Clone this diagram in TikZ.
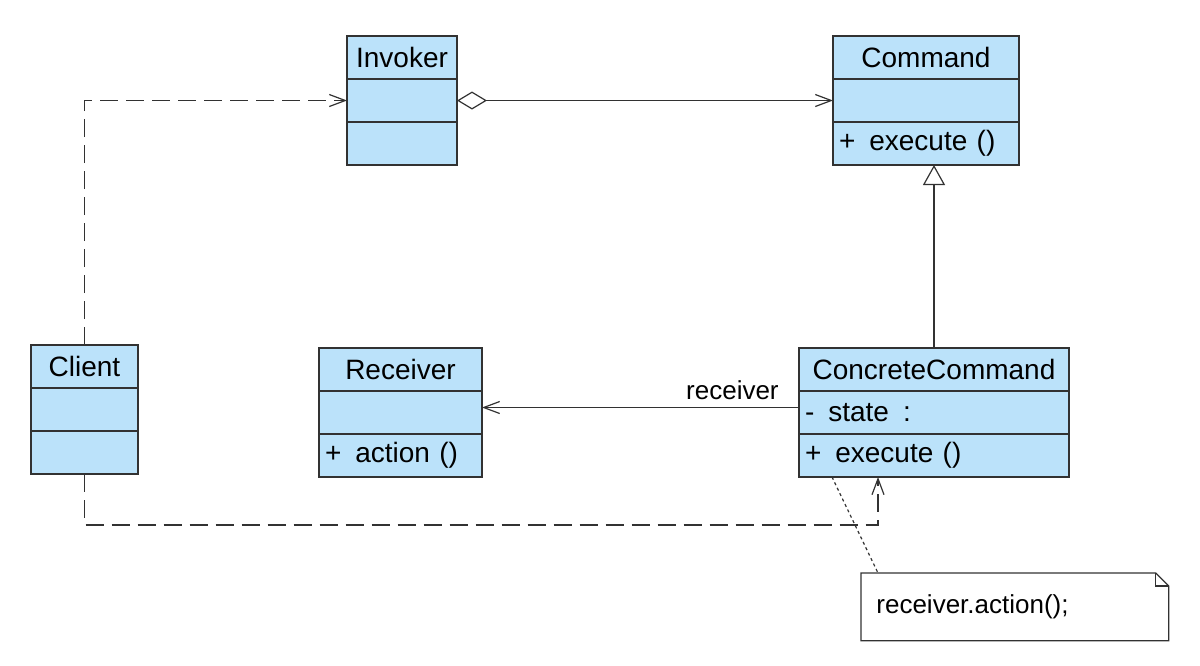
\documentclass[tikz,border=0pt]{standalone}
\usepackage{fontspec}
\setmainfont{Liberation Sans}
\usetikzlibrary{arrows.meta, positioning}
\definecolor{clsblue}{RGB}{187,226,250}
\definecolor{umlline}{RGB}{50,50,50}

\begin{document}
\begin{tikzpicture}[
    x=0.5pt, y=-0.5pt,
    head/.style={draw=umlline, fill=clsblue, line width=0.6pt, minimum height=21.5pt, inner xsep=3pt, inner ysep=0pt, outer sep=0pt, align=center, font=\fontsize{14}{16}\selectfont},
    slot/.style={draw=umlline, fill=clsblue, line width=0.6pt, minimum height=21.5pt, inner xsep=3pt, inner ysep=0pt, outer sep=0pt, align=left, font=\fontsize{14}{16}\selectfont},
    dep/.style={draw=umlline, line width=0.6pt, dash pattern=on 9pt off 4pt, -{Straight Barb[length=8pt, width=6pt]}},
    assoc/.style={draw=umlline, line width=0.6pt, -{Straight Barb[length=8pt, width=6pt]}},
    agg/.style={draw=umlline, line width=0.6pt, {Diamond[open, length=15pt, width=9pt]}-{Straight Barb[length=8pt, width=6pt]}},
    gen/.style={draw=umlline, line width=0.6pt, -{Triangle[open, length=10pt, width=11pt]}},
    note/.style={minimum width=153.5pt, minimum height=33.5pt, text width=138.5pt, inner xsep=7.5pt, align=left, font=\fontsize{13}{15}\selectfont}
]
    \useasboundingbox (0,0) rectangle (1200,665);

    % Invoker
    \node[head, text width=49pt, anchor=north west] (inv) at (347,36) {Invoker};
    \node[slot, text width=49pt, below=0pt of inv] (inv-a) {};
    \node[slot, text width=49pt, below=0pt of inv-a] (inv-o) {};

    % Command
    \node[head, text width=87pt, anchor=north west] (cmd) at (833,36) {Command};
    \node[slot, text width=87pt, below=0pt of cmd] (cmd-a) {};
    \node[slot, text width=87pt, below=0pt of cmd-a] (cmd-o) {+\ \,execute ()};

    % Client
    \node[head, text width=47.5pt, anchor=north west] (cli) at (31,345) {Client};
    \node[slot, text width=47.5pt, below=0pt of cli] (cli-a) {};
    \node[slot, text width=47.5pt, below=0pt of cli-a] (cli-o) {};

    % Receiver
    \node[head, text width=75.5pt, anchor=north west] (rcv) at (319,348) {Receiver};
    \node[slot, text width=75.5pt, below=0pt of rcv] (rcv-a) {};
    \node[slot, text width=75.5pt, below=0pt of rcv-a] (rcv-o) {+\ \,action ()};

    % ConcreteCommand
    \node[head, text width=129pt, anchor=north west] (cc) at (799,348) {ConcreteCommand};
    \node[slot, text width=129pt, below=0pt of cc] (cc-a) {-\ \,state\ \,:};
    \node[slot, text width=129pt, below=0pt of cc-a] (cc-o) {+\ \,execute ()};

    % Note
    \node[note, anchor=north west] (nt) at (861,573) {receiver.action();};
    \draw[umlline, line width=0.6pt] (nt.north west) -- ([xshift=-6.5pt]nt.north east) -- ([yshift=-6.5pt]nt.north east) -- (nt.south east) -- (nt.south west) -- cycle;
    \draw[umlline, line width=0.6pt] ([xshift=-6.5pt]nt.north east) -- ([xshift=-6.5pt, yshift=-6.5pt]nt.north east) -- ([yshift=-6.5pt]nt.north east);

    % Connectors
    \draw[dep] (cli.north) |- (inv-a.west);
    \draw[agg] (inv-a.east) -- (cmd-a.west);
    \draw[gen] (cc.north) -- (cc.north |- cmd-o.south);
    \draw[assoc] ([yshift=2.5pt]cc-a.west) -- node[above, pos=0.21, font=\fontsize{13}{15}\selectfont] {receiver} ([yshift=2.5pt]rcv-a.east);
    \draw[dep] (cli-o.south) -- ++(0,51) -| ([xshift=-28pt]cc-o.south);
    \draw[umlline, line width=0.6pt, dash pattern=on 1.5pt off 1.5pt] ([xshift=-51pt]cc-o.south) -- ([xshift=8.5pt]nt.north west);

\end{tikzpicture}
\end{document}
